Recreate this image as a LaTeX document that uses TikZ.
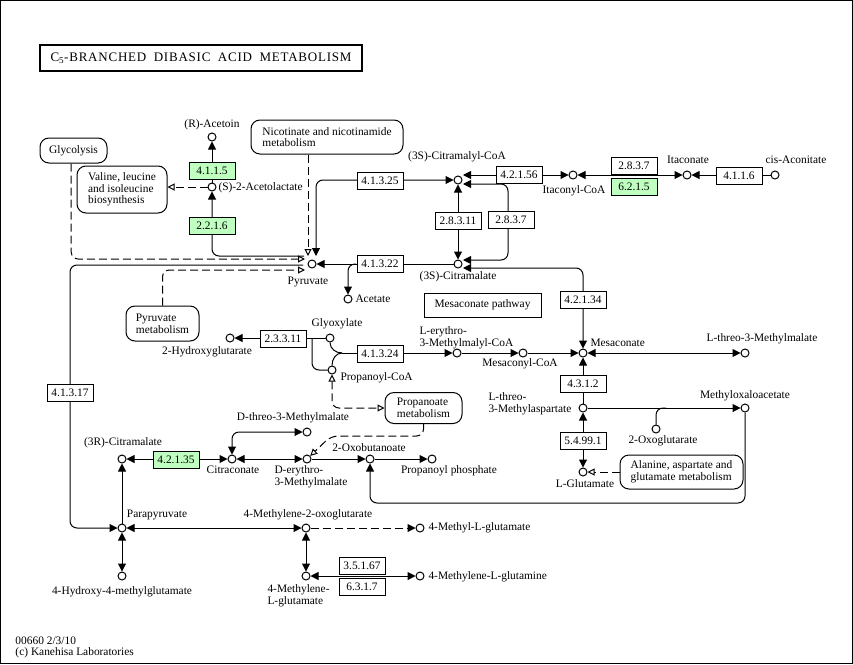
\documentclass[tikz,border=0pt]{standalone}
\usepackage{fontspec}
\setmainfont{Liberation Serif}
\newfontfamily\titlefont[LetterSpace=6]{Liberation Serif}
\usetikzlibrary{arrows.meta,shapes}
\definecolor{ecgreen}{HTML}{BFFFBF}
\tikzstyle{cpd}=[circle,draw,fill=white,minimum size=8pt,inner sep=0pt]
\tikzstyle{ec}=[draw,fill=white,minimum width=46pt,minimum height=17pt,inner sep=0pt]
\tikzstyle{ecg}=[ec,fill=ecgreen]
\tikzstyle{mapbox}=[draw,rounded corners=9pt,align=left,inner sep=0pt]
\tikzstyle{cname}=[inner sep=0pt]
\tikzstyle{rxn}=[draw,rounded corners=7pt]
\tikzstyle{rxnto}=[rxn,-{Triangle[length=8pt,width=8pt]}]
\tikzstyle{rxnboth}=[rxn,{Triangle[length=8pt,width=8pt]}-{Triangle[length=8pt,width=8pt]}]
\tikzstyle{dashto}=[rxnto,dash pattern=on 8pt off 4pt]
\tikzstyle{maplink}=[draw,dash pattern=on 8pt off 4pt,rounded corners=7pt,-{Triangle[open,length=7pt,width=7pt]}]
\tikzstyle{maplinkboth}=[maplink,{Triangle[open,length=7pt,width=7pt]}-{Triangle[open,length=7pt,width=7pt]}]

\begin{document}
\begin{tikzpicture}[x=1pt,y=-1pt,line width=1pt,every node/.style={font=\fontsize{11.4}{11.7}\selectfont}]
    \useasboundingbox (0,0) rectangle (853,664);
    \draw (0.5,0.5) rectangle (852.5,663.5);

    \node[draw,line width=2.5pt,minimum width=322pt,minimum height=26pt,inner sep=0pt] (title) at (201,58)
        {\fontsize{13}{13}\titlefont\makebox[301pt][s]{C\textsubscript{5}-BRANCHED DIBASIC ACID METABOLISM}};

    % compounds
    \foreach \pos/ \name in {{(212,137)/acetoin},{(212,187)/acetolac},{(312,264)/pyr},{(348,299)/acetate},
        {(458,180)/citmcoa},{(458,264)/citm},{(573,175)/itacoa},{(687,175)/itac},{(775,175)/cisacon},
        {(583,353)/mesac},{(745,353)/threomm},{(523,353)/mesacoa},{(457,353)/erymmcoa},
        {(330,338)/glyox},{(332,370)/propcoa},{(230,338)/hglut},{(583,408)/methylasp},{(745,408)/moxac},
        {(656,429)/oxoglut},{(583,472)/glut},{(122,459)/rcitm},{(232,459)/citrac},{(307,432)/dthreo},
        {(307,459)/derythro},{(370,459)/oxobut},{(432,459)/proppho},{(122,528)/parapyr},{(306,528)/mog},
        {(420,528)/mlglu},{(122,576)/hmg},{(306,576)/mleglu},{(420,576)/mlegln}}
        \node[cpd] (\name) at \pos {};

    \node[cname] (t-acetoin) at (212,125) {(R)-Acetoin};
    \node[cname,anchor=west] (t-acetolac) at (218,188) {(S)-2-Acetolactate};
    \node[cname] (t-pyr) at (308,282) {Pyruvate};
    \node[cname,anchor=west] (t-acetate) at (355,299) {Acetate};
    \node[cname] (t-citmcoa) at (457,157) {(3S)-Citramalyl-CoA};
    \node[cname] (t-citm) at (458,277) {(3S)-Citramalate};
    \node[cname] (t-itacoa) at (574,191) {Itaconyl-CoA};
    \node[cname] (t-itac) at (688,160) {Itaconate};
    \node[cname] (t-cisacon) at (796,160) {cis-Aconitate};
    \node[cname,anchor=west] (t-mesac) at (590,343) {Mesaconate};
    \node[cname] (t-threomm) at (762,339) {L-threo-3-Methylmalate};
    \node[cname] (t-mesacoa) at (520,364) {Mesaconyl-CoA};
    \node[cname,anchor=west,align=left] (t-erymmcoa) at (419,337.5) {L-erythro-\\3-Methylmalyl-CoA};
    \node[cname] (t-glyox) at (337,324) {Glyoxylate};
    \node[cname,anchor=west] (t-propcoa) at (340,378) {Propanoyl-CoA};
    \node[cname] (t-hglut) at (207,352) {2-Hydroxyglutarate};
    \node[cname,anchor=west,align=left] (t-methylasp) at (488,404) {L-threo-\\3-Methylaspartate};
    \node[cname] (t-moxac) at (745,396) {Methyloxaloacetate};
    \node[cname] (t-oxoglut) at (663,441) {2-Oxoglutarate};
    \node[cname] (t-glut) at (585,484) {L-Glutamate};
    \node[cname] (t-rcitm) at (123,443) {(3R)-Citramalate};
    \node[cname] (t-citrac) at (233,470) {Citraconate};
    \node[cname] (t-dthreo) at (293,418) {D-threo-3-Methylmalate};
    \node[cname,anchor=west,align=left] (t-derythro) at (274,477) {D-erythro-\\3-Methylmalate};
    \node[cname] (t-oxobut) at (369,448) {2-Oxobutanoate};
    \node[cname] (t-proppho) at (449,471) {Propanoyl phosphate};
    \node[cname] (t-parapyr) at (157,515) {Parapyruvate};
    \node[cname] (t-mog) at (308,515) {4-Methylene-2-oxoglutarate};
    \node[cname,anchor=west] (t-mlglu) at (428,528) {4-Methyl-L-glutamate};
    \node[cname] (t-hmg) at (122,592) {4-Hydroxy-4-methylglutamate};
    \node[cname,anchor=west,align=left] (t-mleglu) at (267,596) {4-Methylene-\\L-glutamate};
    \node[cname,anchor=west] (t-mlegln) at (428,577) {4-Methylene-L-glutamine};

    % maps
    \node[mapbox,minimum width=67pt,minimum height=25pt] (glyc) at (73.5,150.5) {Glycolysis};
    \node[mapbox,minimum width=90pt,minimum height=47pt] (valine) at (122,189.5) {Valine, leucine\\and isoleucine\\biosynthesis};
    \node[mapbox,minimum width=152pt,minimum height=34pt] (nico) at (327,137) {Nicotinate and nicotinamide\\metabolism};
    \node[mapbox,minimum width=73pt,minimum height=35pt] (pyrmet) at (162.5,323.5) {Pyruvate\\metabolism};
    \node[mapbox,minimum width=77pt,minimum height=31pt] (prop) at (423.5,408) {Propanoate\\metabolism};
    \node[mapbox,minimum width=123pt,minimum height=34pt] (ala) at (681.5,472) {Alanine, aspartate and\\glutamate metabolism};
    \node[draw,minimum width=117pt,minimum height=24pt] (mesapath) at (482.5,305) {Mesaconate pathway};

    % free ends round pyruvate and the citramalates
    \coordinate (pyr-ac) at (304,256);
    \coordinate (pyr-glyc) at (305,259);
    \coordinate (pyr-lp) at (303,265);
    \coordinate (pyr-pm) at (305,270);
    \coordinate (pyr-nico) at (308,256);
    \coordinate (pyr-cm) at (316,256);
    \coordinate (ac-br) at (356,264);
    \coordinate (cm-it) at (463,175);
    \coordinate (cm-lp) at (463,184);
    \coordinate (ci-lp) at (463,260);
    \coordinate (ci-ms) at (463,268);
    \coordinate (gp) at (342,353);

    % Connect compounds
    \path[maplink] (glyc.260) |- (pyr-glyc);
    \path[maplink] (nico.south -| pyr-nico) -- (pyr-nico);
    \path[maplink] (pyrmet.north) |- (pyr-pm);
    \path[maplink] (acetolac) -- (acetolac -| valine.east);
    \path[rxnto] (pyr-ac) -| (acetolac);
    \path[rxnto] (acetolac) -- (acetoin);
    \path[rxnboth] (citmcoa) -| (pyr-cm);
    \path[rxnto] (citm) -- (pyr);
    \path[rxnto] (ac-br) -| (acetate);
    \path[rxnboth] (citmcoa) -- (citm);
    \path[rxnboth] (cm-lp) -- (508,184) -- (508,260) -- (ci-lp);
    \path[rxnboth] (cm-it) -- (itacoa);
    \path[rxnboth] (itacoa) -- (itac);
    \path[rxnto] (cisacon) -- (itac);
    \path[rxnboth] (mesac) |- (ci-ms);
    \path[rxnto] (erymmcoa) -- (mesacoa);
    \path[rxnto] (mesacoa) -- (mesac);
    \path[rxnboth] (mesac) -- (threomm);
    \path[rxn] (glyox) to[out=-90,in=180] (gp);
    \path[rxn] (propcoa) to[out=90,in=180] (gp);
    \path[rxnto] (gp) -- (erymmcoa);
    \path[rxnto] (glyox) -- (hglut);
    \path[rxn] (propcoa) -| (312,338);
    \path[maplinkboth] (propcoa) |- (prop);
    \path[maplink] (prop.south) |- (331,436) -- (derythro);
    \path[rxnboth] (rcitm) -- (citrac);
    \path[rxnboth] (citrac) -- (derythro);
    \path[rxnboth] (citrac) |- (dthreo);
    \path[rxnto] (derythro) -- (oxobut);
    \path[rxnto] (oxobut) -- (proppho);
    \path[rxnto] (moxac) |- (370,503) -- (oxobut);
    \path[rxnto] (methylasp) -- (mesac);
    \path[rxnto] (methylasp) -- (moxac);
    \path[rxn] (oxoglut) |- (666,408);
    \path[rxnboth] (glut) -- (methylasp);
    \path[maplink] (ala) -- (glut);
    \path[rxnto] (parapyr) -- (rcitm);
    \path[rxnto] (pyr-lp) -- (70,265) -- (70,528) -- (parapyr);
    \path[rxnboth] (parapyr) -- (mog);
    \path[dashto] (mog) -- (mlglu);
    \path[rxnboth] (parapyr) -- (hmg);
    \path[rxnboth] (mog) -- (mleglu);
    \path[rxnboth] (mleglu) -- (mlegln);

    % enzymes
    \foreach \pos/ \name/ \ec in {{(380,180.5)/ec41325/4.1.3.25},{(380,264)/ec41322/4.1.3.22},
        {(458,220.5)/ec28311/2.8.3.11},{(511,220)/ec2837a/2.8.3.7},{(519,174.5)/ec42156/4.2.1.56},
        {(634,165.5)/ec2837b/2.8.3.7},{(739,175.5)/ec4116/4.1.1.6},{(583,299.5)/ec42134/4.2.1.34},
        {(283,338.5)/ec23311/2.3.3.11},{(380,353.5)/ec41324/4.1.3.24},{(583,383.5)/ec4312/4.3.1.2},
        {(583,440.5)/ec54991/5.4.99.1},{(70,392.5)/ec41317/4.1.3.17},{(362,566)/ec35167/3.5.1.67},
        {(362,586.5)/ec6317/6.3.1.7}}
        \node[ec] (\name) at \pos {\ec};
    \foreach \pos/ \name/ \ec in {{(212,170.5)/ec4115/4.1.1.5},{(212,225.5)/ec2216/2.2.1.6},
        {(634,187)/ec6215/6.2.1.5},{(176,459.5)/ec42135/4.2.1.35}}
        \node[ecg] (\name) at \pos {\ec};

    \node[cname,anchor=west] (t-id) at (15,641) {00660 2/3/10};
    \node[cname,anchor=west] (t-copy) at (15,653) {(c) Kanehisa Laboratories};
\end{tikzpicture}
\end{document}
